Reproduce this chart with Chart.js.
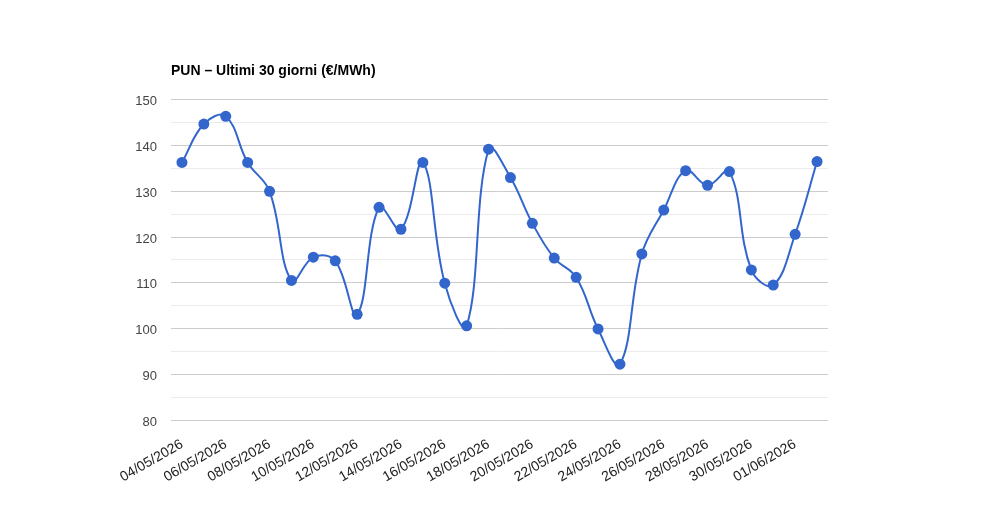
<!DOCTYPE html>
<html>
<head>
<meta charset="utf-8">
<script src="https://cdn.jsdelivr.net/npm/chart.js@4/dist/chart.umd.min.js"></script>
<style>
html,body{margin:0;padding:0;background:#fff;}
#wrap{width:1000px;height:520px;position:relative;}
</style>
</head>
<body>
<div id="wrap"><canvas id="c" width="1000" height="520"></canvas></div>
<script>
const title = "PUN – Ultimi 30 giorni (€/MWh)";
const categories = ["04/05/2026","05/05/2026","06/05/2026","07/05/2026","08/05/2026","09/05/2026","10/05/2026","11/05/2026","12/05/2026","13/05/2026","14/05/2026","15/05/2026","16/05/2026","17/05/2026","18/05/2026","19/05/2026","20/05/2026","21/05/2026","22/05/2026","23/05/2026","24/05/2026","25/05/2026","26/05/2026","27/05/2026","28/05/2026","29/05/2026","30/05/2026","31/05/2026","01/06/2026","02/06/2026"];
const punValues = [136.3,144.7,146.4,136.3,130.0,110.5,115.6,114.8,103.1,126.5,121.7,136.3,109.9,100.6,139.2,133.0,123.0,115.4,111.2,99.9,92.2,116.3,125.9,134.5,131.3,134.3,112.8,109.5,120.6,136.5];
const yTicks = [80,90,100,110,120,130,140,150];

const FONT = "Arial, 'Liberation Sans', sans-serif";

new Chart(document.getElementById('c'), {
  type: 'line',
  data: {
    labels: categories,
    datasets: [{
      label: 'PUN',
      data: punValues,
      borderColor: '#3366cc',
      backgroundColor: '#3366cc',
      borderWidth: 2,
      pointRadius: 5.5,
      pointHoverRadius: 6,
      pointBorderWidth: 0,
      tension: 0.4,
      fill: false
    }]
  },
  options: {
    responsive: false,
    animation: false,
    devicePixelRatio: 1,
    layout: { padding: { left: 100, right: 172, top: 63, bottom: 0 } },
    plugins: {
      legend: { display: false },
      tooltip: { enabled: false },
      title: {
        display: true,
        text: title,
        align: 'start',
        fullSize: false,
        color: '#000',
        font: { family: FONT, size: 14, weight: 'bold' },
        padding: { top: 0, bottom: 20 }
      }
    },
    scales: {
      x: {
        offset: true,
        grid: { display: false, offset: true },
        border: { display: false },
        ticks: {
          autoSkip: false,
          maxRotation: 30,
          minRotation: 30,
          padding: 8,
          color: '#222',
          font: { family: FONT, size: 14 },
          callback: function(v, i) { return i % 2 === 0 ? categories[i] : ''; }
        },
        afterFit: function(s) { s.height = 100; }
      },
      y: {
        min: yTicks[0],
        max: yTicks[yTicks.length - 1],
        border: { display: false },
        grid: {
          drawTicks: false,
          color: function(ctx) { return (ctx.tick && ctx.tick.value % 10 === 0) ? '#cccccc' : '#ebebeb'; },
          lineWidth: 1
        },
        ticks: {
          stepSize: 5,
          padding: 14,
          labelOffset: 2,
          color: '#444',
          font: { family: FONT, size: 13 },
          callback: function(v) { return yTicks.includes(v) ? String(v) : ''; }
        },
        afterFit: function(s) { s.width = 71; }
      }
    }
  }
});
</script>
</body>
</html>
